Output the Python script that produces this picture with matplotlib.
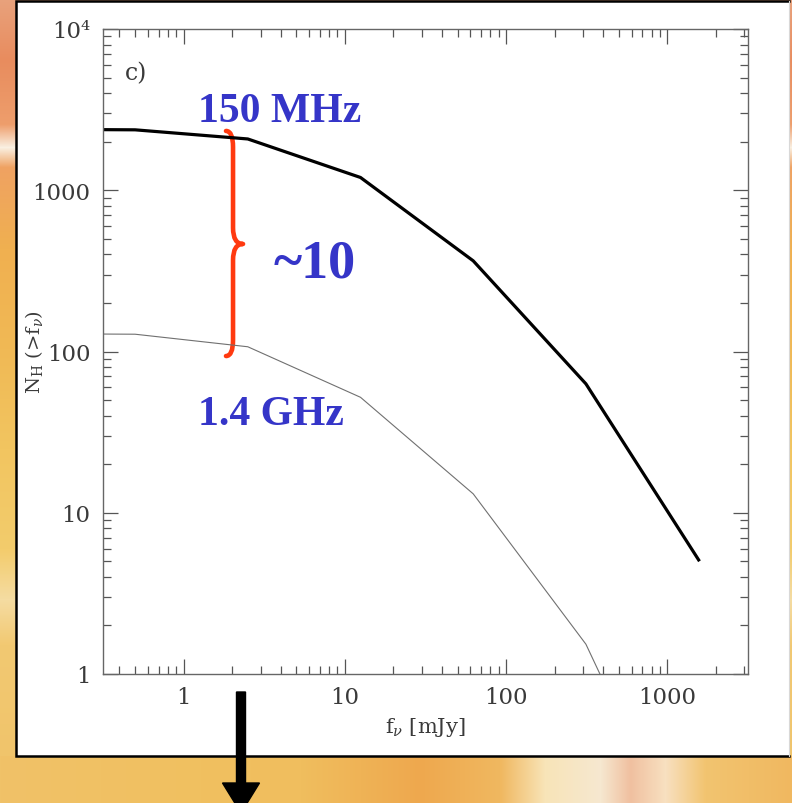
import numpy as np
import matplotlib
matplotlib.use('Agg')
import matplotlib.pyplot as plt
from matplotlib.path import Path
from matplotlib.patches import PathPatch, Rectangle, FancyArrow
from matplotlib.colors import to_rgb
from matplotlib.ticker import NullFormatter

# integral source counts N_H(>f) at the two frequencies
flux = [0.1, 0.5, 2.5, 12.5, 62.5, 312.5, 1562.5]      # mJy
n_150mhz = [2390, 2370, 2080, 1200, 365, 63, 5.1]
n_1400mhz = [129, 128, 107, 52, 13.1, 1.53, 0.05]

xtick_vals = [1, 10, 100, 1000]
xtick_labels = ['1', '10', '100', '1000']
ytick_vals = [1, 10, 100, 1000, 10000]
ytick_labels = ['1', '10', '100', '1000', '10⁴']

W, H = 792, 804

plt.rcParams['font.family'] = 'DejaVu Serif'
plt.rcParams['mathtext.fontset'] = 'dejavuserif'


def ramp(stops, n):
    pos = [s[0] for s in stops]
    cols = np.array([to_rgb(s[1]) for s in stops])
    t = np.arange(n)
    return np.stack([np.interp(t, pos, cols[:, k]) for k in range(3)], axis=1)


# slide background: warm orange wash
side_stops = [(0, '#e9a27c'), (60, '#e88c5e'), (125, '#ee9e6c'), (148, '#faf0e2'),
              (168, '#efa262'), (250, '#f0b050'), (350, '#f0b955'), (450, '#f2c560'),
              (550, '#f3cc6c'), (600, '#f5dca2'), (645, '#f2c972'), (804, '#f0c268')]
bottom_stops = [(0, '#f0c268'), (200, '#f0c060'), (300, '#f0be5e'), (420, '#eea84e'),
                (500, '#f0b860'), (545, '#f8e4b8'), (600, '#f6e8d0'), (630, '#f0c0a0'),
                (665, '#f8e0c0'), (705, '#f2c470'), (792, '#f0b860')]
img = np.repeat(ramp(side_stops, H)[:, None, :], W, axis=1)
img[757:, :, :] = ramp(bottom_stops, W)[None, :, :]

fig = plt.figure(figsize=(W / 100, H / 100), dpi=100)
bg = fig.add_axes([0, 0, 1, 1])
bg.imshow(img, extent=(0, W, H, 0), aspect='auto', interpolation='bilinear')
bg.set_xlim(0, W)
bg.set_ylim(H, 0)
bg.axis('off')

# white panel, dark rule on left, top and bottom only
bg.add_patch(Rectangle((16, 2), 773, 755, facecolor='white', edgecolor='none', zorder=2))
bg.plot([789, 16, 16, 789], [2, 2, 757, 757], color='black', lw=1.8, zorder=3,
        solid_joinstyle='miter')
bg.plot([789, 789], [2, 757], color='#d8d8d8', lw=0.8, zorder=3)
bg.add_patch(FancyArrow(241, 693, 0, 121, width=9, head_width=37, head_length=30,
                        length_includes_head=True, color='black', zorder=5))

ax = fig.add_axes([103 / W, (H - 675) / H, 645 / W, 645 / H])
ax.set_facecolor('none')
ax.loglog(flux, n_150mhz, color='black', lw=2.3)
ax.loglog(flux, n_1400mhz, color='#707070', lw=0.8)
ax.set_xlim(10 ** -0.5, 10 ** 3.5)
ax.set_ylim(1, 1e4)

ax.set_xticks(xtick_vals, xtick_labels)
ax.set_yticks(ytick_vals, ytick_labels)
ax.xaxis.set_minor_formatter(NullFormatter())
ax.yaxis.set_minor_formatter(NullFormatter())
ax.tick_params(which='both', direction='in', top=True, right=True, color='#555555',
               width=0.9, labelsize=16.5, labelcolor='#3a3a3a', pad=9)
ax.tick_params(which='major', length=11)
ax.tick_params(which='minor', length=5.5)
for sp in ax.spines.values():
    sp.set_color('#666666')
    sp.set_linewidth(1.0)

ax.set_xlabel(r'f$_\nu$ [mJy]', fontsize=15, color='#3a3a3a', labelpad=5)
ax.set_ylabel(r'N$_{\rm H}$ (>f$_\nu$)', fontsize=14, color='#3a3a3a')
ax.yaxis.set_label_coords(-0.09, 0.5)

ax.text(0.051, 0.933, 'c)', transform=ax.transAxes, fontsize=17, color='#3a3a3a',
        ha='center', va='center')

blue = '#3535c8'
ax.text(0.2744, 0.857, '150 MHz', transform=ax.transAxes, fontsize=30, color=blue,
        family='Liberation Serif', weight='bold', ha='center', va='baseline')
ax.text(0.3287, 0.617, '~10', transform=ax.transAxes, fontsize=39, color=blue,
        family='Liberation Serif', weight='bold', ha='center', va='baseline')
ax.text(0.2597, 0.3876, '1.4 GHz', transform=ax.transAxes, fontsize=30, color=blue,
        family='Liberation Serif', weight='bold', ha='center', va='baseline')

# curly brace spanning the gap between the two curves
x_end, x_v, x_tip = 0.1907, 0.2016, 0.2171
y_top, y_mid, y_bot = 0.8419, 0.6667, 0.4930
dy = 0.025
verts = [(x_end, y_top), (x_v, y_top), (x_v, y_top - dy),
         (x_v, y_mid + dy),
         (x_v, y_mid), (x_tip, y_mid),
         (x_v, y_mid), (x_v, y_mid - dy),
         (x_v, y_bot + dy),
         (x_v, y_bot), (x_end, y_bot)]
codes = [Path.MOVETO, Path.CURVE3, Path.CURVE3,
         Path.LINETO,
         Path.CURVE3, Path.CURVE3,
         Path.CURVE3, Path.CURVE3,
         Path.LINETO,
         Path.CURVE3, Path.CURVE3]
ax.add_patch(PathPatch(Path(verts, codes), transform=ax.transAxes, fill=False,
                       edgecolor='#ff3a10', lw=3.3, capstyle='round', joinstyle='round',
                       clip_on=False))

fig.savefig('out.png', dpi=100)
